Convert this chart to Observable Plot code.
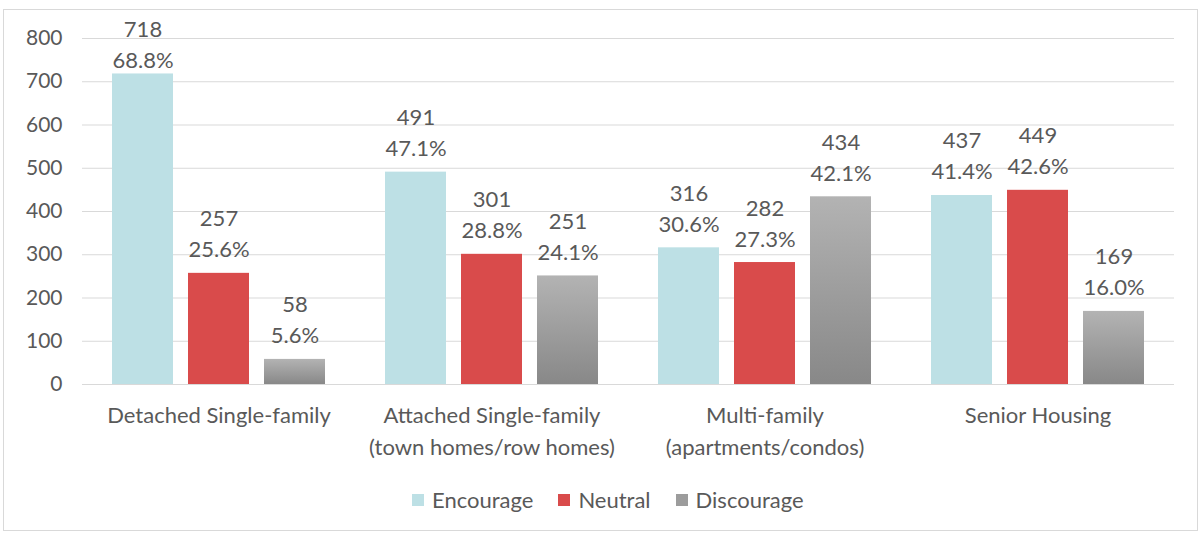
<!DOCTYPE html>
<html>
<head>
<meta charset="utf-8">
<script src="https://cdn.jsdelivr.net/npm/d3@7"></script>
<script src="https://cdn.jsdelivr.net/npm/@observablehq/plot@0.6"></script>
<style>
  html, body { margin: 0; padding: 0; background: #fff; }
  body { width: 1202px; height: 535px; position: relative; overflow: hidden; font-family: Lato, sans-serif; }
  #frame { position: absolute; left: 3px; top: 9px; width: 1195px; height: 522px; border: 1px solid #d9d9d9; box-sizing: border-box; }
  #chart { position: absolute; left: 0; top: 0; }
  #legend { position: absolute; left: 412px; top: 486px; display: flex; align-items: center; gap: 25px; font-size: 22px; color: #595959; font-family: Lato, sans-serif; }
  #legend .item { display: flex; align-items: center; gap: 8px; }
  #legend .sw { width: 12px; height: 12px; display: inline-block; }
</style>
</head>
<body>
<div id="frame"></div>
<div id="chart"></div>
<div id="legend"></div>
<script>
const categories = [
  "Detached Single-family",
  "Attached Single-family\n(town homes/row homes)",
  "Multi-family\n(apartments/condos)",
  "Senior Housing"
];
const series = ["Encourage", "Neutral", "Discourage"];
const encourageCounts = [718, 491, 316, 437];
const neutralCounts = [257, 301, 282, 449];
const discourageCounts = [58, 251, 434, 169];
const encouragePct = [68.8, 47.1, 30.6, 41.4];
const neutralPct = [25.6, 28.8, 27.3, 42.6];
const discouragePct = [5.6, 24.1, 42.1, 16.0];
const yTicks = [0, 100, 200, 300, 400, 500, 600, 700, 800];
const seriesColors = ["#bde0e5", "#d94b4b", "url(#grayGrad)"];
const legendColors = ["#bde0e5", "#d94b4b", "#9c9c9c"];

const counts = [encourageCounts, neutralCounts, discourageCounts];
const pcts = [encouragePct, neutralPct, discouragePct];
const data = [];
categories.forEach((c, i) => {
  series.forEach((s, j) => {
    data.push({category: c, series: s, value: counts[j][i], pct: pcts[j][i]});
  });
});

const textColor = "#595959";
const font = "Lato, sans-serif";

const chart = Plot.plot({
  width: 1202,
  height: 470,
  marginLeft: 80,
  marginRight: 27,
  marginTop: 38,
  marginBottom: 86,
  style: {fontFamily: font, fontSize: "22px", color: textColor, background: "transparent"},
  fx: {domain: categories, paddingInner: 0, paddingOuter: 0, label: null},
  x: {domain: series, paddingInner: 0.195, paddingOuter: 0.375, axis: null, label: null},
  y: {domain: [0, 800], label: null},
  color: {type: "ordinal", domain: series, range: seriesColors},
  marks: [
    Plot.gridY(yTicks, {stroke: "#d9d9d9", strokeOpacity: 1, strokeWidth: 1}),
    Plot.axisY(yTicks, {tickSize: 0, tickPadding: 20, fontSize: 21, label: null, fill: textColor}),
    Plot.axisFx({anchor: "bottom", tickSize: 0, tickPadding: 16, fontSize: 22, lineHeight: 1.45, label: null, fill: textColor}),
    Plot.barY(data, {fx: "category", x: "series", y: "value", fill: "series"}),
    Plot.text(data, {
      fx: "category", x: "series",
      y: d => Math.min(d.value, 694),
      text: d => `${d.value}\n${d.pct.toFixed(1)}%`,
      lineAnchor: "bottom", dy: -16, lineHeight: 1.41,
      fontSize: 22, fill: textColor
    })
  ]
});

// gradient for the gray bars
const svg = d3.select(chart);
const defs = svg.insert("defs", ":first-child");
const g = defs.append("linearGradient").attr("id", "grayGrad").attr("x1", 0).attr("y1", 0).attr("x2", 0).attr("y2", 1);
g.append("stop").attr("offset", "0%").attr("stop-color", "#b3b3b3");
g.append("stop").attr("offset", "100%").attr("stop-color", "#888888");

document.getElementById("chart").appendChild(chart);

const legend = d3.select("#legend");
series.forEach((s, i) => {
  const item = legend.append("div").attr("class", "item");
  item.append("span").attr("class", "sw").style("background", legendColors[i]);
  item.append("span").text(s);
});
</script>
</body>
</html>
